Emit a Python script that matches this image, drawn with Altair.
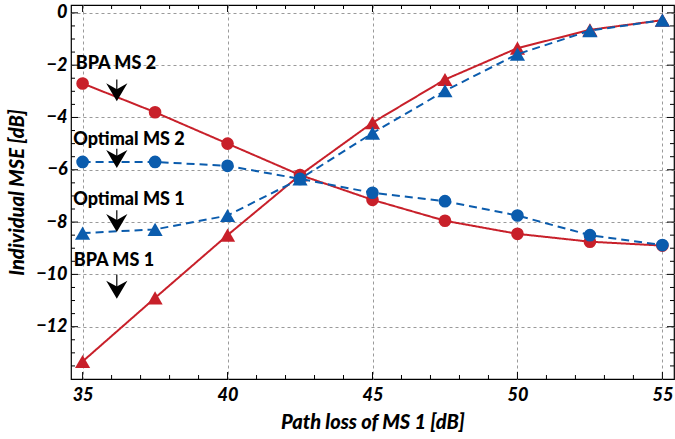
import altair as alt
import pandas as pd

# ---- data ----
path_loss = [35, 37.5, 40, 42.5, 45, 47.5, 50, 52.5, 55]
bpa_ms2 = [-2.7, -3.8, -5.0, -6.2, -7.15, -7.95, -8.45, -8.75, -8.9]
opt_ms2 = [-5.7, -5.7, -5.85, -6.35, -6.88, -7.2, -7.75, -8.5, -8.88]
opt_ms1 = [-8.42, -8.28, -7.75, -6.35, -4.6, -2.98, -1.58, -0.68, -0.28]
bpa_ms1 = [-13.33, -10.9, -8.5, -6.2, -4.2, -2.55, -1.35, -0.65, -0.28]

ann_text = ["BPA MS 2", "Optimal MS 2", "Optimal MS 1", "BPA MS 1"]
ann_x = [36.15, 36.6, 36.6, 36.08]
ann_y = [-1.95, -4.85, -7.15, -9.5]
arrow_x = [36.18, 36.18, 36.18, 36.18]
arrow_top = [-2.55, -5.2, -7.55, -10.0]
arrow_tip = [-3.1, -5.65, -8.1, -10.65]

x_major = [35, 40, 45, 50, 55]
y_major = [0, -2, -4, -6, -8, -10, -12]
x_minor = [v for v in range(35, 56) if v % 5 != 0]
y_minor = [v / 2 for v in range(-28, 1) if v % 4 != 0]

RED = "#c8202a"
BLUE = "#0b5cad"
FONT = "Lato"
W, H = 603, 374

rows = []
for name, ys, grp, shp in [
    ("BPA MS 2", bpa_ms2, "red", "circle"),
    ("BPA MS 1", bpa_ms1, "red", "triangle-up"),
    ("Optimal MS 2", opt_ms2, "blue", "circle"),
    ("Optimal MS 1", opt_ms1, "blue", "triangle-up"),
]:
    for xv, yv in zip(path_loss, ys):
        rows.append({"x": xv, "y": yv, "series": name, "grp": grp, "shape": shp})
df = pd.DataFrame(rows)

xs = alt.Scale(domain=[34.6, 55.4], nice=False, zero=False)
ys_ = alt.Scale(domain=[-14, 0.3], nice=False, zero=False)

xax = alt.Axis(values=x_major, format="d", title="Path loss of MS 1 [dB]", ticks=False,
               grid=True, gridDash=[3, 3], gridColor="#9a9a9a", labelPadding=7, titlePadding=8)
yax = alt.Axis(values=y_major, format="d", title="Individual MSE [dB]", ticks=False,
               grid=True, gridDash=[3, 3], gridColor="#9a9a9a", labelPadding=4, titlePadding=8)

base = alt.Chart(df)
X = alt.X("x:Q", scale=xs, axis=xax)
Y = alt.Y("y:Q", scale=ys_, axis=yax)

grid = base.mark_point(opacity=0).encode(x=X, y=Y)

def lines(grp, color, dash):
    return base.transform_filter(alt.datum.grp == grp).mark_line(
        color=color, strokeWidth=2, strokeDash=dash
    ).encode(x=alt.X("x:Q", scale=xs), y=alt.Y("y:Q", scale=ys_), detail="series:N")

def points(grp, color):
    return base.transform_filter(alt.datum.grp == grp).mark_point(
        filled=True, opacity=1, color=color
    ).encode(
        x=alt.X("x:Q", scale=xs), y=alt.Y("y:Q", scale=ys_),
        shape=alt.Shape("shape:N", scale=alt.Scale(domain=["circle", "triangle-up"],
                                                    range=["circle", "triangle-up"]), legend=None),
        size=alt.Size("shape:N", scale=alt.Scale(domain=["circle", "triangle-up"],
                                                  range=[160, 230]), legend=None),
    )

red_l = lines("red", RED, [1, 0])
red_p = points("red", RED)
blue_l = lines("blue", BLUE, [8, 5])
blue_p = points("blue", BLUE)

ann = pd.DataFrame({"t": ann_text, "x": ann_x, "y": ann_y, "ax": arrow_x,
                    "a1": arrow_top, "a2": arrow_tip})
abase = alt.Chart(ann)
texts = abase.mark_text(font=FONT, fontWeight=900, fontSize=18, color="black").encode(
    x=alt.X("x:Q", scale=xs), y=alt.Y("y:Q", scale=ys_), text="t:N")
stems = abase.mark_rule(color="black", strokeWidth=1.2).encode(
    x=alt.X("ax:Q", scale=xs), y=alt.Y("a1:Q", scale=ys_), y2="a2:Q")
heads = abase.mark_point(filled=True, opacity=1, color="black", size=450,
                         shape="M-1,-1 L0,-0.45 L1,-1 L0,0.7 Z").encode(
    x=alt.X("ax:Q", scale=xs), y=alt.Y("a2:Q", scale=ys_))

# inward frame ticks
def xticks(vals, length):
    d = pd.DataFrame({"v": vals})
    c = alt.Chart(d).mark_rule(color="black", strokeWidth=1)
    b = c.encode(x=alt.X("v:Q", scale=xs), y=alt.value(H), y2=alt.value(H - length))
    t = c.encode(x=alt.X("v:Q", scale=xs), y=alt.value(0), y2=alt.value(length))
    return b + t

def yticks(vals, length):
    d = pd.DataFrame({"v": vals})
    c = alt.Chart(d).mark_rule(color="black", strokeWidth=1)
    l = c.encode(y=alt.Y("v:Q", scale=ys_), x=alt.value(0), x2=alt.value(length))
    r = c.encode(y=alt.Y("v:Q", scale=ys_), x=alt.value(W), x2=alt.value(W - length))
    return l + r

ticks = xticks(x_major, 7) + xticks(x_minor, 4) + yticks(y_major, 7) + yticks(y_minor, 4)

chart = alt.layer(grid, ticks, red_l, red_p, blue_l, blue_p, texts, stems, heads).properties(
    width=W, height=H,
    autosize=alt.AutoSizeParams(type="none"),
    padding={"left": 71, "top": 5, "right": 1, "bottom": 60},
).configure_view(stroke="black", strokeWidth=1.2).configure_axis(
    labelFont=FONT, labelFontSize=18, labelFontStyle="italic", labelFontWeight=900,
    labelColor="black", titleFont=FONT, titleFontSize=20, titleFontStyle="italic",
    titleFontWeight=900, titleColor="black", domain=False,
)

chart.save("out.html", embed_options={"renderer": "svg", "actions": False})
